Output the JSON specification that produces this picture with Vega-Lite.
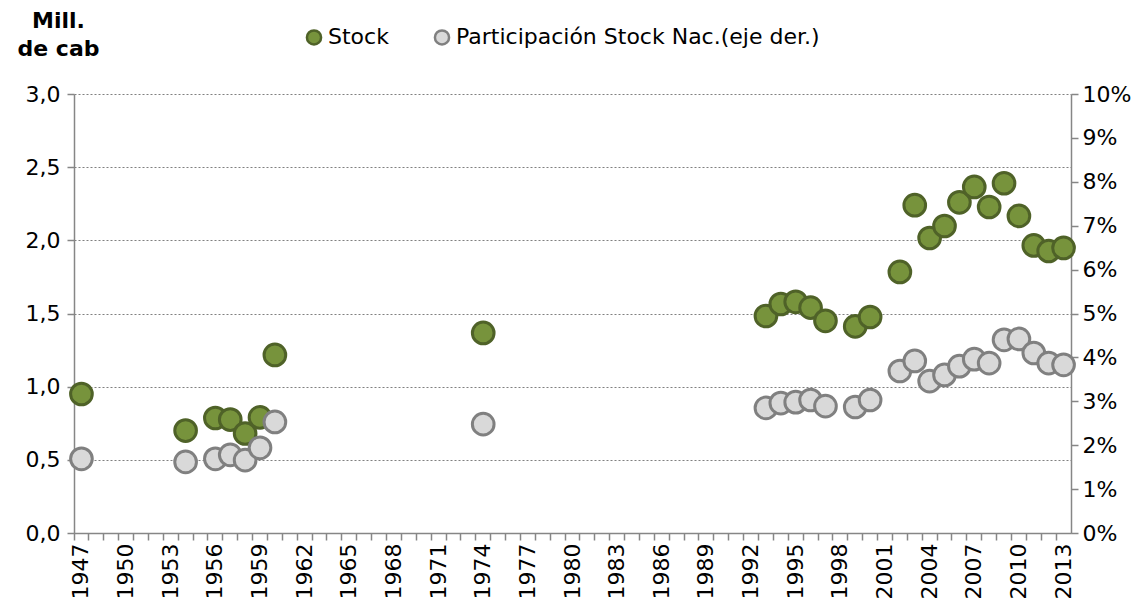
{
  "$schema": "https://vega.github.io/schema/vega-lite/v6.json",
  "width": 997,
  "height": 439,
  "autosize": {"type": "none"},
  "padding": {"left": 74, "top": 94, "right": 74, "bottom": 75},
  "background": "white",
  "config": {
    "view": {"stroke": null},
    "font": "DejaVu Sans",
    "axis": {"labelFont": "DejaVu Sans", "labelFontSize": 22, "labelColor": "#000000", "domainColor": "#868686", "tickColor": "#868686", "domainWidth": 1.5, "tickWidth": 1.5}
  },
  "data": {"values": [
    {"year": 1947, "stock": 0.95, "part": 0.0169},
    {"year": 1954, "stock": 0.70, "part": 0.0162},
    {"year": 1956, "stock": 0.786, "part": 0.0169},
    {"year": 1957, "stock": 0.775, "part": 0.0178},
    {"year": 1958, "stock": 0.68, "part": 0.0166},
    {"year": 1959, "stock": 0.79, "part": 0.0194},
    {"year": 1960, "stock": 1.217, "part": 0.0253},
    {"year": 1974, "stock": 1.367, "part": 0.0248},
    {"year": 1993, "stock": 1.483, "part": 0.0285},
    {"year": 1994, "stock": 1.565, "part": 0.0296},
    {"year": 1995, "stock": 1.58, "part": 0.0298},
    {"year": 1996, "stock": 1.54, "part": 0.0303},
    {"year": 1997, "stock": 1.45, "part": 0.0289},
    {"year": 1999, "stock": 1.412, "part": 0.0287},
    {"year": 2000, "stock": 1.476, "part": 0.0303},
    {"year": 2002, "stock": 1.784, "part": 0.0369},
    {"year": 2003, "stock": 2.24, "part": 0.0392},
    {"year": 2004, "stock": 2.016, "part": 0.0346},
    {"year": 2005, "stock": 2.098, "part": 0.036},
    {"year": 2006, "stock": 2.26, "part": 0.038},
    {"year": 2007, "stock": 2.365, "part": 0.0396},
    {"year": 2008, "stock": 2.228, "part": 0.0387},
    {"year": 2009, "stock": 2.39, "part": 0.044},
    {"year": 2010, "stock": 2.167, "part": 0.0442},
    {"year": 2011, "stock": 1.965, "part": 0.041},
    {"year": 2012, "stock": 1.927, "part": 0.0387},
    {"year": 2013, "stock": 1.948, "part": 0.0383}
  ]},
  "layer": [
    {
      "mark": {"type": "point", "filled": true, "opacity": 1, "size": 470, "strokeWidth": 3},
      "encoding": {
        "x": {
          "field": "year", "type": "ordinal",
          "scale": {"type": "band", "paddingInner": 0, "paddingOuter": 0,
            "domain": [1947,1948,1949,1950,1951,1952,1953,1954,1955,1956,1957,1958,1959,1960,1961,1962,1963,1964,1965,1966,1967,1968,1969,1970,1971,1972,1973,1974,1975,1976,1977,1978,1979,1980,1981,1982,1983,1984,1985,1986,1987,1988,1989,1990,1991,1992,1993,1994,1995,1996,1997,1998,1999,2000,2001,2002,2003,2004,2005,2006,2007,2008,2009,2010,2011,2012,2013]},
          "axis": {"orient": "bottom", "title": null, "labels": false, "ticks": true, "tickSize": 7, "bandPosition": 0, "domain": true, "grid": false}
        },
        "y": {
          "field": "stock", "type": "quantitative",
          "scale": {"domain": [0, 3]},
          "axis": {
            "title": ["Mill.", "de cab"], "titleAngle": 0, "titleAlign": "center", "titleBaseline": "top",
            "titleX": -16, "titleY": -84, "titleFontSize": 22, "titleFontWeight": "bold", "titleFont": "DejaVu Sans", "titleLineHeight": 28, "titleColor": "#000000",
            "values": [0, 0.5, 1, 1.5, 2, 2.5, 3],
            "labelExpr": "replace(format(datum.value, '.1f'), '.', ',')",
            "grid": true, "gridDash": [2, 2], "gridColor": "#808080", "gridWidth": 1.2,
            "tickSize": 7, "labelPadding": 7
          }
        },
        "fill": {"datum": "Stock", "type": "nominal",
          "scale": {"domain": ["Stock", "Participación Stock Nac.(eje der.)"], "range": ["#77933c", "#d9d9d9"]},
          "legend": {"orient": "none", "legendX": 229, "legendY": -68, "direction": "horizontal", "title": null,
            "labelFontSize": 22, "labelFont": "DejaVu Sans", "labelColor": "#000000", "labelLimit": 0, "symbolSize": 200, "symbolStrokeWidth": 2.5, "columnPadding": 40, "labelOffset": 3, "symbolType": "circle"}},
        "stroke": {"datum": "Stock", "type": "nominal",
          "scale": {"domain": ["Stock", "Participación Stock Nac.(eje der.)"], "range": ["#4f6228", "#808080"]},
          "legend": {"orient": "none", "legendX": 229, "legendY": -68, "direction": "horizontal", "title": null,
            "labelFontSize": 22, "labelFont": "DejaVu Sans", "labelColor": "#000000", "labelLimit": 0, "symbolSize": 200, "symbolStrokeWidth": 2.5, "columnPadding": 40, "labelOffset": 3, "symbolType": "circle"}}
      }
    },
    {
      "mark": {"type": "point", "filled": true, "opacity": 1, "size": 470, "strokeWidth": 3},
      "encoding": {
        "x": {
          "field": "year", "type": "ordinal",
          "axis": {"orient": "bottom", "title": null, "labels": true, "ticks": false, "domain": false, "grid": false, "labelAngle": -90, "labelPadding": 10,
            "labelExpr": "(datum.value - 1947) % 3 == 0 ? datum.value : ''"}
        },
        "y": {
          "field": "part", "type": "quantitative",
          "scale": {"domain": [0, 0.1]},
          "axis": {"orient": "right", "title": null, "format": ".0%", "grid": false,
            "values": [0, 0.01, 0.02, 0.03, 0.04, 0.05, 0.06, 0.07, 0.08, 0.09, 0.1],
            "tickSize": 7, "labelPadding": 4}
        },
        "fill": {"datum": "Participación Stock Nac.(eje der.)", "type": "nominal"},
        "stroke": {"datum": "Participación Stock Nac.(eje der.)", "type": "nominal"}
      }
    }
  ],
  "resolve": {"scale": {"y": "independent"}, "axis": {"x": "independent", "y": "independent"}}
}
